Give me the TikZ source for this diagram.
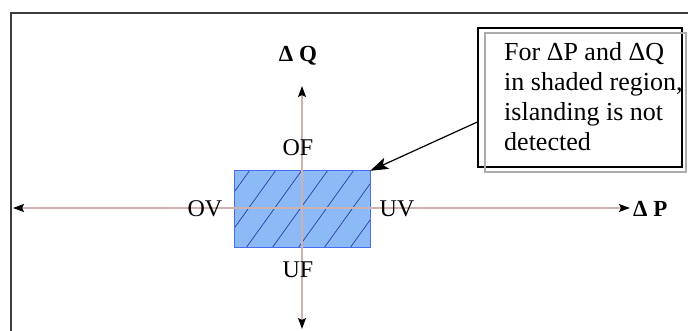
\documentclass[tikz,border=0pt]{standalone}
\usepackage{fontspec}
\setmainfont{Liberation Serif}
\usetikzlibrary{arrows.meta}
\definecolor{axiscol}{RGB}{205,178,178}
\definecolor{regionfill}{RGB}{140,186,246}
\definecolor{regionedge}{RGB}{70,110,240}
\definecolor{hatchcol}{RGB}{40,60,170}
\definecolor{framecol}{RGB}{60,60,60}
\tikzset{
  axis/.style={draw=axiscol, line width=1.1pt, -{Stealth[length=11pt,width=8pt,inset=2pt,black]}},
  axislabel/.style={font=\fontsize{23}{26}\selectfont\bfseries, inner sep=0pt},
  zonelabel/.style={font=\fontsize{24}{26}\selectfont, inner sep=0pt},
  callout/.style={draw=black, line width=1.3pt, inner sep=0pt, minimum width=204pt, minimum height=139pt},
  pointer/.style={draw=black, line width=1.2pt, -{Stealth[length=18pt,width=12pt,inset=4pt]}},
}
\begin{document}
\begin{tikzpicture}[x=1pt,y=-1pt]
\useasboundingbox (0,0) rectangle (688,331);
\fill[white] (0,0) rectangle (688,331);
% outer frame
\draw[framecol, line width=1.3pt] (11,331) -- (11,13) -- (688,13);
% axis end points
\coordinate (O) at (302,208);
\coordinate (L) at (13,208);
\coordinate (R) at (630,208);
\coordinate (T) at (302,86);
\coordinate (B) at (302,329);
% shaded region
\node[draw=none, fill=regionfill, minimum width=135pt, minimum height=76pt, inner sep=0pt] (reg) at (302.5,209) {};
\begin{scope}
  \clip (reg.south west) rectangle (reg.north east);
  \foreach \k in {-4,...,5}{
    \draw[hatchcol, line width=0.7pt] ({246+26*\k},248) -- ({302+26*\k},170);
  }
\end{scope}
\draw[regionedge, line width=0.9pt] (reg.south west) rectangle (reg.north east);
% axes
\draw[axis] (O) -- (L);
\draw[axis] (O) -- (R);
\draw[axis] (O) -- (T);
\draw[axis] (O) -- (B);
% axis labels
\node[axislabel] (dq) at (298,56) {Δ Q};
\node[axislabel, anchor=west] (dp) at (633,209) {Δ P};
% zone labels
\node[zonelabel] (of) at (298,148) {OF};
\node[zonelabel] (uf) at (298,270) {UF};
\node[zonelabel] (ov) at (205,209) {OV};
\node[zonelabel] (uv) at (397,209) {UV};
% callout
\node[callout] (note) at (580,97.5) {};
\draw[gray!65, line width=1.2pt] (485,33) rectangle (686,172);
\node[anchor=north west, inner sep=0pt, align=left, font=\fontsize{26}{30}\selectfont] (notetext) at (504,42)
  {For ΔP and ΔQ\\in shaded region,\\islanding is not\\detected};
\coordinate (ptr) at (note.west |- 0,122);
\draw[pointer] (ptr) -- (reg.north east);
\end{tikzpicture}
\end{document}
